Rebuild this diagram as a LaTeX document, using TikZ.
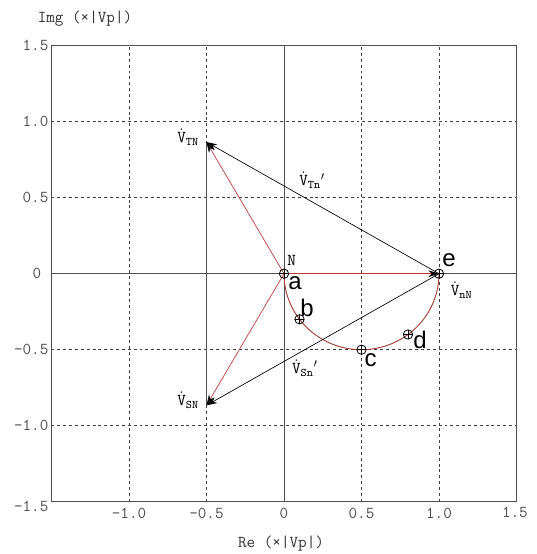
\documentclass[tikz,border=0pt]{standalone}
\usepackage{fontspec}
\newfontfamily\lettfont{Liberation Sans}
\usetikzlibrary{arrows.meta}
\definecolor{redline}{RGB}{185,55,55}
\definecolor{arcred}{RGB}{165,65,55}
\definecolor{axisgray}{RGB}{80,80,80}
\begin{document}
\begin{tikzpicture}[x=116.25pt,y=114pt,
  gridline/.style={dash pattern=on 2.2pt off 2.2pt,black!75,line width=0.6pt},
  axisline/.style={axisgray,line width=0.7pt},
  redvec/.style={redline,line width=0.5pt,-{Stealth[color=black,length=8pt,width=5pt]}},
  blackvec/.style={black,line width=0.5pt,-{Stealth[length=8pt,width=5pt]}},
  ticklab/.style={font=\ttfamily\fontsize{12.5}{14}\selectfont,text=black!70,inner sep=1pt},
  veclab/.style={font=\fontsize{12.5}{14}\selectfont,inner sep=0pt},
  ptlab/.style={font=\lettfont\fontsize{18}{20}\selectfont,inner sep=0pt},
  marker/.style={circle,draw=black,line width=0.6pt,minimum size=7pt,inner sep=0pt,
    path picture={\draw[line width=0.5pt] (path picture bounding box.north) -- (path picture bounding box.south)
      (path picture bounding box.west) -- (path picture bounding box.east);}}]
\useasboundingbox (-1.8323,-1.8441) rectangle (1.6323,1.8007);
% grid
\foreach \v in {-1,-0.5,0.5,1} {
  \draw[gridline] (\v,-1.5) -- (\v,1.5);
  \draw[gridline] (-1.5,\v) -- (1.5,\v);
}
% axes
\draw[axisline] (0,-1.5) -- (0,1.5);
\draw[axisline] (-1.5,0) -- (1.5,0);
\draw[axisline] (-1.5,-1.5) rectangle (1.5,1.5);
% named points
\coordinate (N) at (0,0);
\coordinate (T) at (-0.5,0.866);
\coordinate (S) at (-0.5,-0.866);
\coordinate (E) at (1,0);
\draw[axisline] (T) -- (S);
% arc
\draw[arcred,line width=0.7pt] plot[domain=180:360,samples=80] ({0.5+0.5*cos(\x)},{0.5*sin(\x)});
% vectors
\draw[redvec] (N) -- (T);
\draw[redvec] (N) -- (S);
\draw[redvec] (N) -- (E);
\draw[blackvec] (E) -- (T);
\draw[blackvec] (E) -- (S);
% markers
\node[marker] (ma) at (0,0) {};
\node[marker] (mb) at (0.1,-0.3) {};
\node[marker] (mc) at (0.5,-0.5) {};
\node[marker] (md) at (0.8,-0.4) {};
\node[marker] (me) at (1,0) {};
% tick labels
\node[ticklab,anchor=east] (y15) at (-1.51,1.5) {1.5};
\node[ticklab,anchor=east] (y10) at (-1.51,1.0) {1.0};
\node[ticklab,anchor=east] (y05) at (-1.51,0.5) {0.5};
\node[ticklab] (y0) at (-1.594,0) {0};
\node[ticklab,anchor=east] (ym05) at (-1.51,-0.5) {-0.5};
\node[ticklab,anchor=east] (ym10) at (-1.51,-1.0) {-1.0};
\node[ticklab,anchor=east] (ym15) at (-1.51,-1.53) {-1.5};
\node[ticklab] (xm10) at (-1.0,-1.578) {-1.0};
\node[ticklab] (xm05) at (-0.5,-1.578) {-0.5};
\node[ticklab] (x0) at (0,-1.578) {0};
\node[ticklab] (x05) at (0.5,-1.578) {0.5};
\node[ticklab] (x10) at (1.0,-1.578) {1.0};
\node[ticklab] (x15) at (1.49,-1.57) {1.5};
\node[ticklab,text=black!80] (ylab) at (-1.284,1.676) {Img (×|Vp|)};
\node[ticklab,text=black!80] (xlab) at (-0.019,-1.778) {Re (×|Vp|)};
% vector labels
\node[veclab] (lTN) at (-0.619,0.899) {$\dot{\mathtt{V}}_{\mathtt{TN}}$};
\node[veclab] (lTn) at (0.181,0.616) {$\dot{\mathtt{V}}_{\mathtt{Tn}}{}^{\prime}$};
\node[veclab] (lSN) at (-0.619,-0.831) {$\dot{\mathtt{V}}_{\mathtt{SN}}$};
\node[veclab] (lSn) at (0.135,-0.620) {$\dot{\mathtt{V}}_{\mathtt{Sn}}{}^{\prime}$};
\node[veclab] (lnN) at (1.146,-0.107) {$\dot{\mathtt{V}}_{\mathtt{nN}}$};
\node[veclab] (lN) at (0.050,0.086) {$\mathtt{N}$};
% point letters
\node[ptlab] (la) at (0.071,-0.061) {a};
\node[ptlab] (lb) at (0.148,-0.226) {b};
\node[ptlab] (lc) at (0.559,-0.572) {c};
\node[ptlab] (ld) at (0.877,-0.436) {d};
\node[ptlab] (le) at (1.065,0.090) {e};
\end{tikzpicture}
\end{document}
